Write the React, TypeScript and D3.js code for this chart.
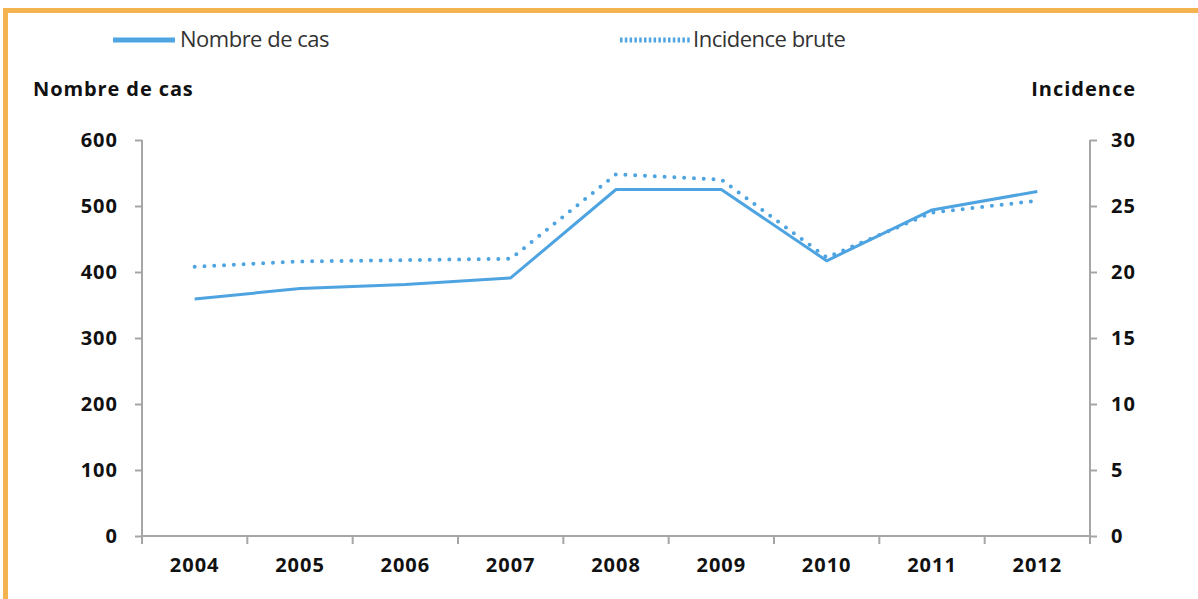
import { useEffect, useRef } from 'react';
import * as d3 from 'd3';

const years = ['2004', '2005', '2006', '2007', '2008', '2009', '2010', '2011', '2012'];
const nombreDeCas = [359, 375, 381, 391, 525, 525, 417, 494, 522];
const incidenceBrute = [20.4, 20.8, 20.9, 21.0, 27.4, 27.0, 21.1, 24.5, 25.4];
const leftTicks = [0, 100, 200, 300, 400, 500, 600];
const rightTicks = [0, 5, 10, 15, 20, 25, 30];

const W = 1198;
const H = 599;
const LINE_COLOR = '#4ea3e1';
const AXIS_COLOR = '#a6a6a6';
const FONT = '"Open Sans", "Noto Sans", sans-serif';

export default function App() {
    const svgRef = useRef<SVGSVGElement>(null);

    useEffect(() => {
        if (!svgRef.current) return;
        const svg = d3.select(svgRef.current);
        svg.selectAll('*').remove();

        const margin = { top: 140, right: 108, bottom: 63, left: 142 };
        const innerWidth = W - margin.left - margin.right;
        const innerHeight = H - margin.top - margin.bottom;

        // frame
        svg.append('rect')
            .attr('x', 5.5)
            .attr('y', 10.5)
            .attr('width', W + 20)
            .attr('height', H + 20)
            .attr('fill', 'white')
            .attr('stroke', '#f3b44f')
            .attr('stroke-width', 5);

        const g = svg.append('g')
            .attr('transform', `translate(${margin.left},${margin.top})`);

        const x = d3.scaleBand<string>().domain(years).range([0, innerWidth]);
        const yLeft = d3.scaleLinear().domain([0, 600]).range([innerHeight, 0]);
        const yRight = d3.scaleLinear().domain([0, 30]).range([innerHeight, 0]);

        const boldText = (sel: d3.Selection<any, any, any, any>) => sel
            .attr('fill', '#111')
            .attr('font-size', 20)
            .attr('font-weight', 700)
            .attr('letter-spacing', 1)
            .attr('font-family', FONT);

        // axes
        const styleAxis = (sel: d3.Selection<SVGGElement, unknown, null, undefined>) => {
            sel.select('.domain').remove();
            sel.selectAll('.tick line').attr('stroke', AXIS_COLOR).attr('stroke-width', 2);
            sel.selectAll('.tick text').call(boldText);
        };

        g.append('g')
            .call(d3.axisLeft(yLeft).tickValues(leftTicks).tickSize(7).tickPadding(17))
            .call(styleAxis);

        g.append('g')
            .attr('transform', `translate(${innerWidth},0)`)
            .call(d3.axisRight(yRight).tickValues(rightTicks).tickSize(7).tickPadding(14))
            .call(styleAxis);

        // x axis: ticks at band boundaries
        const boundaries = d3.range(years.length + 1).map(i => i * x.step());
        const xAxis = g.append('g').attr('transform', `translate(0,${innerHeight})`);
        xAxis.selectAll('line.tick')
            .data(boundaries)
            .join('line')
            .attr('class', 'tick')
            .attr('x1', d => d).attr('x2', d => d)
            .attr('y1', 0).attr('y2', 8)
            .attr('stroke', AXIS_COLOR).attr('stroke-width', 2);
        xAxis.selectAll('text')
            .data(years)
            .join('text')
            .attr('x', d => (x(d) ?? 0) + x.bandwidth() / 2)
            .attr('y', 36)
            .attr('text-anchor', 'middle')
            .call(boldText)
            .text(d => d);

        g.append('line')
            .attr('x1', 0).attr('x2', innerWidth)
            .attr('y1', innerHeight).attr('y2', innerHeight)
            .attr('stroke', AXIS_COLOR).attr('stroke-width', 2);
        g.append('line')
            .attr('x1', 0).attr('x2', 0)
            .attr('y1', 0).attr('y2', innerHeight + 8)
            .attr('stroke', AXIS_COLOR).attr('stroke-width', 2);
        g.append('line')
            .attr('x1', innerWidth).attr('x2', innerWidth)
            .attr('y1', 0).attr('y2', innerHeight + 8)
            .attr('stroke', AXIS_COLOR).attr('stroke-width', 2);

        // lines
        const cx = (i: number) => (x(years[i]) ?? 0) + x.bandwidth() / 2;
        const lineCas = d3.line<number>().x((_, i) => cx(i)).y(d => yLeft(d));
        const lineInc = d3.line<number>().x((_, i) => cx(i)).y(d => yRight(d));

        g.append('path')
            .attr('d', lineInc(incidenceBrute))
            .attr('fill', 'none')
            .attr('stroke', LINE_COLOR)
            .attr('stroke-width', 4)
            .attr('stroke-linecap', 'round')
            .attr('stroke-dasharray', '0 9.8');

        g.append('path')
            .attr('d', lineCas(nombreDeCas))
            .attr('fill', 'none')
            .attr('stroke', LINE_COLOR)
            .attr('stroke-width', 3)
            .attr('stroke-linejoin', 'round');

        // axis titles
        svg.append('text')
            .attr('x', 33).attr('y', 96)
            .call(boldText)
            .attr('letter-spacing', 0.9)
            .text('Nombre de cas');
        svg.append('text')
            .attr('x', 1136).attr('y', 96)
            .attr('text-anchor', 'end')
            .call(boldText)
            .text('Incidence');

        // legend
        const legendText = (sel: d3.Selection<any, any, any, any>) => sel
            .attr('font-size', 22)
            .attr('letter-spacing', -0.5)
            .attr('font-family', FONT)
            .attr('fill', '#333');
        const legend = svg.append('g');
        legend.append('line')
            .attr('x1', 113).attr('x2', 175).attr('y1', 40).attr('y2', 40)
            .attr('stroke', LINE_COLOR).attr('stroke-width', 5);
        legend.append('text')
            .attr('x', 180).attr('y', 47)
            .call(legendText)
            .text('Nombre de cas');
        legend.append('line')
            .attr('x1', 620).attr('x2', 690).attr('y1', 40).attr('y2', 40)
            .attr('stroke', LINE_COLOR).attr('stroke-width', 5)
            .attr('stroke-dasharray', '2.5 2.3');
        legend.append('text')
            .attr('x', 693).attr('y', 47)
            .call(legendText)
            .text('Incidence brute');
    }, []);

    return (
        <svg
            ref={svgRef}
            width={W}
            height={H}
            style={{ position: 'absolute', left: 0, top: 0, background: 'white' }}
        />
    );
}
